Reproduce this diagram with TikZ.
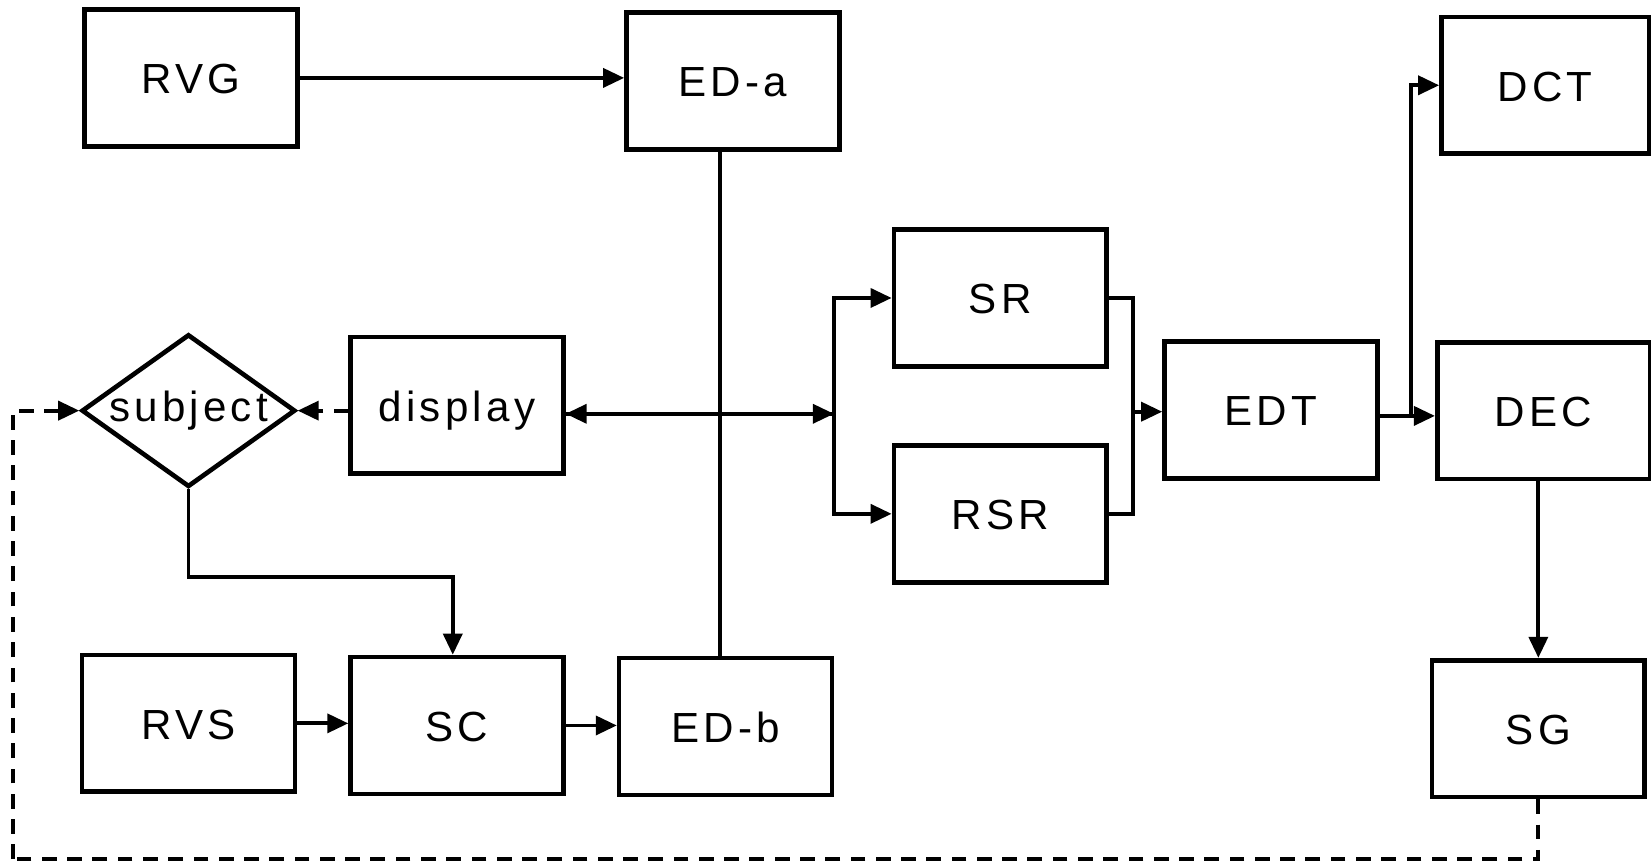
\documentclass[tikz,border=0pt]{standalone}
\usepackage{fontspec}
\setmainfont{Liberation Sans}[LetterSpace=10]
\usetikzlibrary{arrows.meta,shapes.geometric}
\begin{document}
\begin{tikzpicture}[x=0.5pt,y=-0.5pt,
  box/.style={draw,line width=2.2pt,inner sep=0pt,minimum width=101pt,minimum height=65pt,text height=15pt,text depth=0pt,font=\fontsize{20}{22}\selectfont},
  conn/.style={line width=1.8pt,-{Triangle[length=10pt,width=9pt]}},
  plain/.style={line width=1.8pt},
  dsh/.style={line width=1.8pt,dash pattern=on 7pt off 5pt}]
\useasboundingbox (0,0) rectangle (1568,822);
\node[box] (RVG) at (181.5,74) {RVG};
\node[box] (EDa) at (696,77) {ED-a};
\node[box,minimum width=98.5pt] (DCT) at (1467.5,81) {DCT};
\node[box] (SR) at (950,283) {SR};
\node[box] (display) at (434,385) {display};
\node[draw,line width=2.2pt,diamond,aspect=1.4,inner sep=0pt,minimum width=101.5pt,minimum height=72.5pt,font=\fontsize{20}{22}\selectfont] (subject) at (179,390) {subject};
\node[box] (EDT) at (1207,389.5) {EDT};
\node[box] (DEC) at (1466,390) {DEC};
\node[box] (RSR) at (950,488) {RSR};
\node[box] (RVS) at (179,687) {RVS};
\node[box] (SC) at (434,689) {SC};
\node[box] (EDb) at (689,690) {ED-b};
\node[box] (SG) at (1461,692) {SG};
\coordinate (J) at (792,393);
\coordinate (K) at (1076,391);
\coordinate (L) at (1340,395);
\coordinate (D1) at (12,816);
\coordinate (M) at (181,548);
% connectors
\draw[conn] (RVG.east) -- (RVG.east -| EDa.west);
\draw[plain] ([xshift=-6pt]EDa.south) -- ([xshift=-6pt]EDa.south |- EDb.north);
\draw[conn] (J) -- (display.east |- J);
\draw[conn] (display.east |- J) -- (J);
\draw[conn] (J) |- (SR.west);
\draw[conn] (J) |- (RSR.west);
\draw[plain] (SR.east) -| (K);
\draw[plain] (RSR.east) -| (K);
\draw[conn] (K) -- (EDT.west |- K);
\draw[plain] (EDT.east |- L) -- (L);
\draw[conn] (L) -- (DEC.west |- L);
\draw[conn] (L) |- (DCT.west);
\draw[conn] (SG.north |- DEC.south) -- (SG.north);
\draw[dsh] (SG.south) |- (D1);
\draw[dsh,-{Triangle[length=10pt,width=9pt]}] (D1) |- (subject.west);
\draw[dsh,-{Triangle[length=10pt,width=9pt]}] (display.west |- subject.east) -- (subject.east);
\draw[conn] (subject.south) |- (M) -| ([xshift=-2pt]SC.north);
\draw[conn] (RVS.east) -- (RVS.east -| SC.west);
\draw[conn] (SC.east) -- (SC.east -| EDb.west);
\end{tikzpicture}
\end{document}
